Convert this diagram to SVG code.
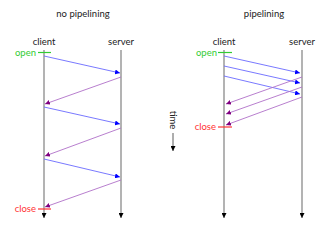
<svg xmlns="http://www.w3.org/2000/svg" width="330" height="230" viewBox="0 0 330 230">
<style>
text{font-family:Lato,"DejaVu Sans",sans-serif;font-size:9.5px;fill:#222}
.t{text-anchor:middle}
.life{stroke:#808080;stroke-width:1.2;fill:none}
.req{stroke:#6a6aff;stroke-width:0.9;fill:none}
.res{stroke:#b070c8;stroke-width:0.9;fill:none}
.open{stroke:#33cc33;stroke-width:1.2}
.close{stroke:#ff3333;stroke-width:1.2}
</style>
<defs>
<marker id="ab" viewBox="0 0 10 10" refX="10" refY="5" markerWidth="5" markerHeight="5" orient="auto" markerUnits="userSpaceOnUse"><path d="M0,0L10,5L0,10z" fill="#0000ff"/></marker>
<marker id="ap" viewBox="0 0 10 10" refX="10" refY="5" markerWidth="5" markerHeight="5" orient="auto" markerUnits="userSpaceOnUse"><path d="M0,0L10,5L0,10z" fill="#800080"/></marker>
<marker id="ak" viewBox="0 0 10 10" refX="10" refY="5" markerWidth="5" markerHeight="5" orient="auto" markerUnits="userSpaceOnUse"><path d="M0,0L10,5L0,10z" fill="#000"/></marker>
</defs>
<g id="title-left"><text class="t" x="83" y="17">no pipelining</text></g>
<g id="title-right"><text class="t" x="264" y="17">pipelining</text></g>
<g id="client-left"><text class="t" x="44" y="45">client</text><line class="life" x1="44" y1="50" x2="44" y2="218" marker-end="url(#ak)"/></g>
<g id="server-left"><text class="t" x="121" y="45">server</text><line class="life" x1="121" y1="50" x2="121" y2="218" marker-end="url(#ak)"/></g>
<g id="client-right"><text class="t" x="224" y="45">client</text><line class="life" x1="224" y1="50" x2="224" y2="218" marker-end="url(#ak)"/></g>
<g id="server-right"><text class="t" x="302" y="45">server</text><line class="life" x1="302" y1="50" x2="302" y2="218" marker-end="url(#ak)"/></g>
<g id="open-left"><text x="36" y="56" text-anchor="end" style="fill:#33cc33">open</text><line class="open" x1="38" y1="52.5" x2="51" y2="52.5"/></g>
<g id="close-left"><text x="36" y="212" text-anchor="end" style="fill:#ff3333">close</text><line class="close" x1="38" y1="209" x2="51" y2="209"/></g>
<g id="open-right"><text x="217" y="56" text-anchor="end" style="fill:#33cc33">open</text><line class="open" x1="218" y1="52.5" x2="232" y2="52.5"/></g>
<g id="close-right"><text x="216" y="130" text-anchor="end" style="fill:#ff3333">close</text><line class="close" x1="218" y1="127" x2="232" y2="127"/></g>
<g id="time"><text class="t" transform="translate(170,120) rotate(90)">time</text><line x1="173" y1="133" x2="173" y2="151" stroke="#333" stroke-width="0.8" marker-end="url(#ak)"/></g>
<g id="connectors">
<line class="req" x1="44" y1="56" x2="120" y2="73" marker-end="url(#ab)"/>
<line class="res" x1="121" y1="77" x2="45" y2="104" marker-end="url(#ap)"/>
<line class="req" x1="44" y1="107" x2="120" y2="124" marker-end="url(#ab)"/>
<line class="res" x1="121" y1="128" x2="45" y2="156" marker-end="url(#ap)"/>
<line class="req" x1="44" y1="159" x2="120" y2="177" marker-end="url(#ab)"/>
<line class="res" x1="121" y1="180" x2="45" y2="207" marker-end="url(#ap)"/>
<line class="req" x1="224" y1="56" x2="300" y2="73" marker-end="url(#ab)"/>
<line class="req" x1="224" y1="66" x2="300" y2="83" marker-end="url(#ab)"/>
<line class="req" x1="224" y1="76" x2="300" y2="94" marker-end="url(#ab)"/>
<line class="res" x1="302" y1="77" x2="226" y2="104" marker-end="url(#ap)"/>
<line class="res" x1="302" y1="87" x2="226" y2="114" marker-end="url(#ap)"/>
<line class="res" x1="302" y1="97" x2="226" y2="125" marker-end="url(#ap)"/>
</g>
</svg>
